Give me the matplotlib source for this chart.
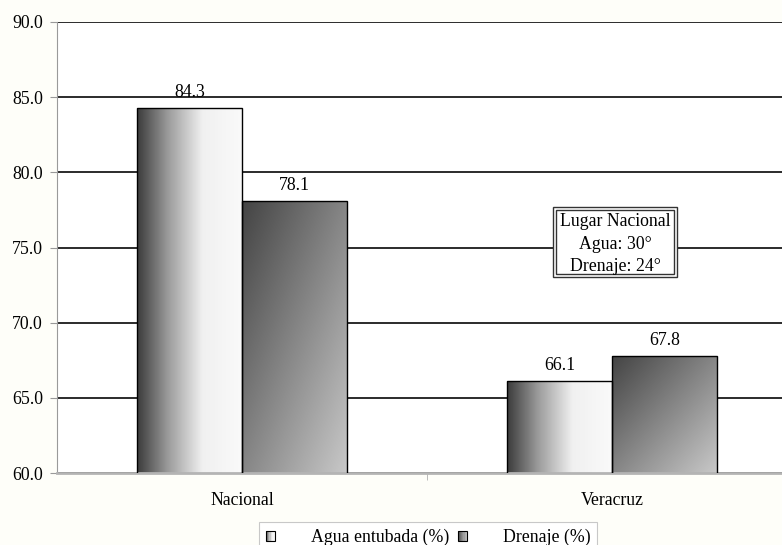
import numpy as np
import matplotlib
matplotlib.use("Agg")
import matplotlib.pyplot as plt
from matplotlib.colors import LinearSegmentedColormap
from matplotlib.patches import Rectangle
from matplotlib.legend_handler import HandlerBase

categories = ["Nacional", "Veracruz"]
agua = [84.3, 66.1]
drenaje = [78.1, 67.8]
series_names = ["Agua entubada (%)", "Drenaje (%)"]
note_lines = ["Lugar Nacional", "Agua: 30°", "Drenaje: 24°"]

plt.rcParams["font.family"] = ["Liberation Serif", "DejaVu Serif"]
FS = 12.8

cmap_agua = LinearSegmentedColormap.from_list(
    "agua", [(0, "#3d3d3d"), (0.3, "#9e9e9e"), (0.62, "#f0f0f0"), (1, "#fafafa")])
cmap_dren = LinearSegmentedColormap.from_list(
    "dren", [(0, "#444444"), (1, "#c8c8c8")])

fig = plt.figure(figsize=(7.82, 5.45), dpi=100, facecolor="#fefef9")
ax = fig.add_axes([57 / 782, 1 - 473 / 545, 740 / 782, 451 / 545])
ax.set_facecolor("white")

ymin, ymax = 60, 90
w = 0.284
x = np.arange(len(categories))


def gradient_fill(patch, cmap, mode):
    x0 = patch.get_x()
    x1 = x0 + patch.get_width()
    top = patch.get_height()
    u = np.linspace(0, 1, 80)[None, :]
    v = np.linspace(0, 1, 80)[:, None]
    if mode == "h":
        t = np.repeat(u, 80, axis=0)
    else:
        t = (u + v) / 2
    im = ax.imshow(t, cmap=cmap, vmin=0, vmax=1, extent=(x0, x1, ymin, top),
                   origin="upper", aspect="auto", interpolation="bilinear", zorder=2)
    im.set_clip_path(patch)


bars1 = ax.bar(x - w / 2, agua, w, facecolor="none", edgecolor="black", lw=1, zorder=3)
bars2 = ax.bar(x + w / 2, drenaje, w, facecolor="none", edgecolor="black", lw=1, zorder=3)
for b in bars1:
    gradient_fill(b, cmap_agua, "h")
for b in bars2:
    gradient_fill(b, cmap_dren, "d")

for bars, vals in ((bars1, agua), (bars2, drenaje)):
    for b, v in zip(bars, vals):
        ax.annotate(f"{v:.1f}", (b.get_x() + b.get_width() / 2, v), xytext=(0, 5),
                    textcoords="offset points", ha="center", va="bottom", fontsize=FS)

ax.set_xlim(-0.5, 1.5)
ax.set_ylim(ymin, ymax)
ax.set_yticks(np.arange(60, 91, 5))
ax.set_yticklabels([f"{t:.1f}" for t in np.arange(60, 91, 5)], fontsize=FS)
ax.set_xticks(x)
ax.set_xticklabels(categories, fontsize=FS)
ax.set_xticks([0.5], minor=True)
ax.tick_params(axis="x", which="major", length=0, pad=14)
ax.tick_params(axis="x", which="minor", length=5, color="#b0b0b0", direction="out")
ax.tick_params(axis="y", length=5, color="#999999", pad=5)

ax.yaxis.grid(True, color="#1a1a1a", lw=1.3, zorder=1)
ax.set_axisbelow(True)
for s in ("top", "right"):
    ax.spines[s].set_visible(False)
ax.spines["left"].set_color("#9a9a9a")
ax.spines["bottom"].set_color("#b4b4b4")
ax.spines["bottom"].set_linewidth(2)

# double-framed note box
ax.add_patch(Rectangle((0.670, 0.4346), 0.168, 0.155, transform=ax.transAxes,
                       facecolor="white", edgecolor="#333333", lw=1, zorder=5))
ax.add_patch(Rectangle((0.674, 0.441), 0.160, 0.142, transform=ax.transAxes,
                       facecolor="white", edgecolor="#333333", lw=1, zorder=5))
ax.text(0.754, 0.507, "\n".join(note_lines), transform=ax.transAxes, ha="center",
        va="center", fontsize=FS, linespacing=1.42, zorder=6)


class GradientSquare(HandlerBase):
    def __init__(self, cmap):
        super().__init__()
        self.cmap = cmap

    def create_artists(self, legend, orig_handle, xdescent, ydescent, width, height,
                       fontsize, trans):
        side = 6.8
        x0 = width / 2 - side / 2 - xdescent
        y0 = height / 2 - side / 2 - ydescent
        arts = []
        n = 8
        for i in range(n):
            arts.append(Rectangle((x0 + i * side / n, y0), side / n, side,
                                  facecolor=self.cmap((i + 0.5) / n), edgecolor="none",
                                  transform=trans))
        arts.append(Rectangle((x0, y0), side, side, facecolor="none",
                              edgecolor="black", lw=0.8, transform=trans))
        return arts


h1 = Rectangle((0, 0), 1, 1)
h2 = Rectangle((0, 0), 1, 1)
leg = fig.legend([h1, h2], series_names, loc="upper left",
                 bbox_to_anchor=(259 / 782, 1 - 522 / 545), ncol=2, fontsize=FS,
                 handler_map={h1: GradientSquare(cmap_agua), h2: GradientSquare(cmap_dren)},
                 handlelength=0.55, handletextpad=2.0, columnspacing=0.45,
                 borderpad=0.38, borderaxespad=0, fancybox=False, framealpha=1)
leg.get_frame().set_edgecolor("#c8c8c8")
leg.get_frame().set_linewidth(0.8)

fig.savefig("out.png", dpi=100, facecolor=fig.get_facecolor())
